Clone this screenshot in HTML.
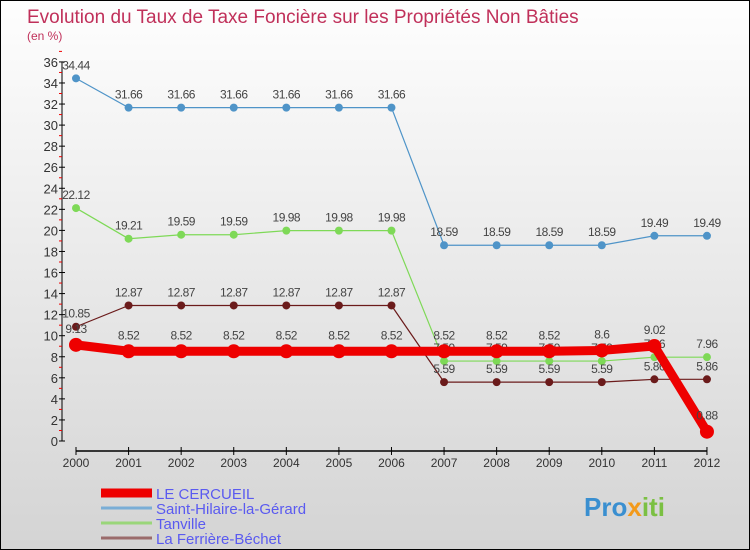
<!DOCTYPE html>
<html><head><meta charset="utf-8"><style>
body{margin:0;}
#wrap{width:750px;height:550px;position:relative;box-sizing:border-box;border:1px solid #000;background:linear-gradient(#fefefe,#d4d4d4);font-family:"Liberation Sans",sans-serif;overflow:hidden}
svg text{font-family:"Liberation Sans",sans-serif}
</style></head><body>
<div id="wrap">
<svg id="chart" width="750" height="550">
<text x="26" y="22" font-size="19" fill="#c0305a">Evolution du Taux de Taxe Foncière sur les Propriétés Non Bâties</text>
<text x="26" y="39" font-size="12" fill="#c0305a">(en %)</text>
<g id="axes"></g><g id="series"></g><g id="legend"></g>
<text x="583" y="515" font-size="26" font-weight="bold" fill="#3a8fd0">Pro<tspan fill="#f39a1a">x</tspan><tspan fill="#7bc043">iti</tspan></text>
</svg>
</div>
<script>
const years=[2000,2001,2002,2003,2004,2005,2006,2007,2008,2009,2010,2011,2012];
const cercueil=[9.13,8.52,8.52,8.52,8.52,8.52,8.52,8.52,8.52,8.52,8.6,9.02,0.88];
const hilaire=[34.44,31.66,31.66,31.66,31.66,31.66,31.66,18.59,18.59,18.59,18.59,19.49,19.49];
const tanville=[22.12,19.21,19.59,19.59,19.98,19.98,19.98,7.59,7.59,7.59,7.59,7.96,7.96];
const ferriere=[10.85,12.87,12.87,12.87,12.87,12.87,12.87,5.59,5.59,5.59,5.59,5.86,5.86];
const yTicks=[0,2,4,6,8,10,12,14,16,18,20,22,24,26,28,30,32,34,36];
const NS="http://www.w3.org/2000/svg";
const X=i=>75+i*52.58, Y=v=>440-v*10.53;
function el(t,a,p){const e=document.createElementNS(NS,t);for(const k in a)e.setAttribute(k,a[k]);p.appendChild(e);return e;}
const ax=document.getElementById('axes'),sg=document.getElementById('series'),lg=document.getElementById('legend');
let yl=el('line',{x1:61,y1:Y(36),x2:61,y2:Y(0),stroke:'#000'},ax);


yTicks.forEach(v=>{
  el('line',{x1:58,x2:64,y1:Y(v),y2:Y(v),stroke:'#000'},ax);
  el('line',{x1:58,x2:61,y1:Y(v+1),y2:Y(v+1),stroke:'#e00'},ax);
  const t=el('text',{x:57,y:Y(v)+5,'font-size':13,fill:'#333','text-anchor':'end'},ax);
  t.textContent=v;
  
  
});
let xl=el('line',{x1:X(0),y1:450,x2:X(12),y2:450,stroke:'#000','stroke-width':1.5},ax);


years.forEach((yr,i)=>{
  el('line',{x1:X(i),x2:X(i),y1:446,y2:454,stroke:'#000'},ax);
  const t=el('text',{x:X(i),y:466,'font-size':12,fill:'#333','text-anchor':'middle'},ax);
  t.textContent=yr;
  
  
});
function series(vals,color,w,r,name,dy){
  const g=el('g',{},sg);
  
  
  el('polyline',{points:vals.map((v,i)=>X(i)+','+Y(v)).join(' '),fill:'none',stroke:color,'stroke-width':w,'stroke-linejoin':'round'},g);
  vals.forEach((v,i)=>{
    const c=el('circle',{cx:X(i),cy:Y(v),r:r,fill:color},g);
    
    
    const t=el('text',{x:X(i),y:Y(v)+dy,'font-size':12,fill:'#444','text-anchor':'middle','letter-spacing':'-0.5'},g);
    t.textContent=v;
    
    
  });
}
series(hilaire,'#4f94c8',1.2,4,'saint-hilaire-series',-9);
series(tanville,'#7ed957',1.2,4,'tanville-series',-9);
series(ferriere,'#6b1b1b',1.2,4,'la-ferriere-series',-9);
series(cercueil,'#ee0000',9,7,'le-cercueil-series',-12);
const names=['LE CERCUEIL','Saint-Hilaire-la-Gérard','Tanville','La Ferrière-Béchet'];
const cols=['#ee0000','#7aaed6','#9ad67a','#9a6b6b'];
const ws=[9,3,3,3];
names.forEach((n,i)=>{
  const y=492+i*15;
  const g=el('g',{},lg);
  
  
  el('line',{x1:100,x2:151,y1:y,y2:y,stroke:cols[i],'stroke-width':ws[i]},g);
  const t=el('text',{x:155,y:y+6,'font-size':15,fill:'#5a5af0'},g);
  t.textContent=n;
});
</script>
</body></html>
